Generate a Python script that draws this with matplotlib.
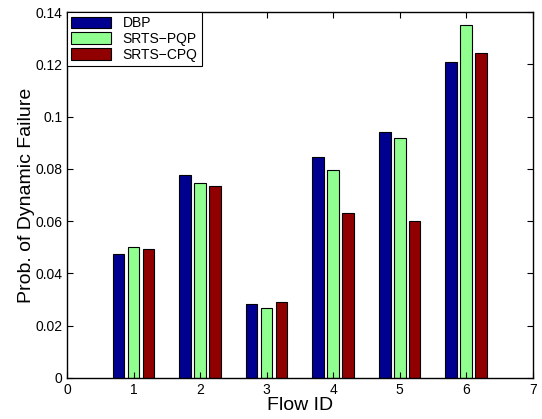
import matplotlib.pyplot as plt
import numpy as np

plt.rcParams["font.family"] = ["Liberation Sans", "DejaVu Sans"]

flows = [1, 2, 3, 4, 5, 6]
dbp = [0.0475, 0.0775, 0.0282, 0.0847, 0.0940, 0.1208]
srts_pqp = [0.0500, 0.0747, 0.0268, 0.0797, 0.0920, 0.1350]
srts_cpq = [0.0492, 0.0735, 0.0292, 0.0630, 0.0600, 0.1243]

series = [
    ("DBP", dbp, "#000090"),
    ("SRTS\u2212PQP", srts_pqp, "#90FF90"),
    ("SRTS\u2212CPQ", srts_cpq, "#900000"),
]

fig = plt.figure(figsize=(5.42, 4.19), dpi=100)
ax = fig.add_axes([0.1236, 0.098, 0.8594, 0.873])

x = np.array(flows, dtype=float)
offsets = [-0.225, 0.0, 0.225]
for (label, values, color), off in zip(series, offsets):
    ax.bar(x + off, values, width=0.175, color=color, edgecolor="black",
           linewidth=0.8, label=label)

ax.set_xlim(0, 7)
ax.set_ylim(0, 0.14)
ax.set_xticks(range(0, 8))
ax.set_yticks([0, 0.02, 0.04, 0.06, 0.08, 0.1, 0.12, 0.14])
ax.set_yticklabels(["0", "0.02", "0.04", "0.06", "0.08", "0.1", "0.12", "0.14"])
ax.tick_params(direction="in", top=True, right=True, labelsize=10, length=4)
for spine in ax.spines.values():
    spine.set_linewidth(1.0)

ax.set_xlabel("Flow ID", fontsize=14, labelpad=0)
ax.set_ylabel("Prob. of Dynamic Failure", fontsize=14, labelpad=0)

leg = ax.legend(loc="upper left", borderaxespad=0, fontsize=10, fancybox=False,
                framealpha=1, edgecolor="black", handlelength=2.9,
                handleheight=0.9, labelspacing=0.12, borderpad=0.3)
leg.get_frame().set_linewidth(0.8)
leg.set_zorder(5)

fig.savefig("out.png", dpi=100)
